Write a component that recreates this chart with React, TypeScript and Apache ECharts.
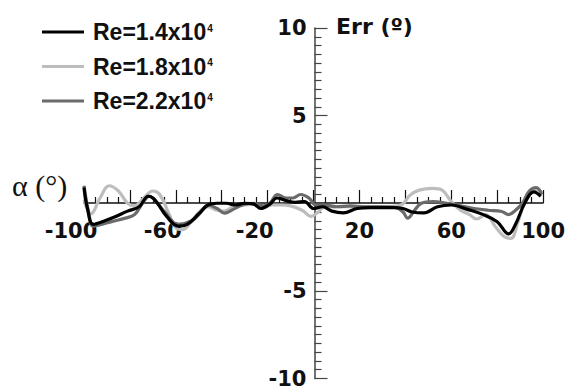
import React, { useEffect, useRef } from "react";
import * as echarts from "echarts";

const seriesNames = ["Re=1.4x10", "Re=1.8x10", "Re=2.2x10"];
const seriesColors = ["#000000", "#bdbdbd", "#6b6b6b"];
const xTickLabels = [-100, -60, -20, 20, 60, 100];
const yTickLabels = [10, 5, -5, -10];

const re14X = [-100, -98.5, -96, -92, -87, -81, -76, -72, -70, -68, -64, -59, -55, -50, -46, -42, -38, -34, -30, -26, -23, -19, -16, -12, -8, -4, 0, 4, 8, 13, 19, 25, 31, 35, 39, 43, 48, 54, 60, 67, 74, 80, 85, 88, 92, 96, 99];
const re14Y = [0.9, -0.3, -1.2, -1.05, -0.8, -0.45, -0.2, 0.4, 0.3, 0, -0.75, -1.3, -1.2, -0.6, -0.1, 0.0, 0.0, -0.1, 0.0, -0.05, -0.3, -0.05, 0.3, 0.15, 0.05, 0.1, -0.3, -0.2, -0.45, -0.55, -0.3, -0.25, -0.25, -0.25, -0.3, -0.5, -0.55, -0.2, -0.1, -0.35, -0.65, -1.05, -1.75, -1.2, 0, 0.65, 0.4];

const re18X = [-100, -97, -93, -89, -85, -81, -78, -74, -70, -67, -63, -60, -57, -53, -49, -46, -42, -39, -35, -30, -26, -22, -18, -14, -10, -5, -1, 2, 5, 10, 20, 30, 38, 42, 46, 52, 56, 60, 64, 68, 71, 75, 79, 83, 86, 89, 93, 97, 99.5];
const re18Y = [0.2, -0.6, 0.3, 1.0, 0.7, 0.0, -0.15, 0.3, 0.7, 0.5, -0.6, -1.4, -1.5, -1.0, -0.4, -0.2, -0.4, -0.45, -0.2, -0.1, -0.05, -0.2, -0.1, -0.1, -0.15, -0.4, -0.75, -0.5, -0.2, -0.2, -0.2, -0.2, -0.1, 0.45, 0.75, 0.85, 0.75, 0.1, -0.4, -0.65, -0.9, -0.65, -1.3, -1.9, -2.0, -1.1, 0.4, 0.8, 0.6];

const re22X = [-100, -98, -96, -92, -88, -82, -78, -74, -71.5, -68, -65, -59, -53, -49, -46, -42, -38.8, -35, -30, -26, -22, -19, -15.7, -12, -9, -5.6, -2, 1, 5, 10, 16, 22, 30, 36, 39, 41, 44, 47, 52, 58, 64, 70, 76, 82, 85, 88, 91, 94, 97, 99.5];
const re22Y = [1.0, -0.5, -1.3, -1.2, -1.05, -0.85, -0.65, 0.1, 0.4, 0.0, -0.47, -1.2, -1.0, -0.5, -0.1, -0.3, -0.56, -0.35, -0.05, 0.0, -0.15, 0.0, 0.5, 0.3, 0.3, 0.5, 0.3, -0.1, -0.1, -0.2, -0.15, -0.2, -0.2, -0.25, -0.5, -0.85, -0.4, 0.0, 0.1, 0.0, -0.15, -0.3, -0.4, -0.47, -0.65, -0.4, 0.0, 0.7, 0.9, 0.5];

const seriesX = [re14X, re18X, re22X];
const seriesY = [re14Y, re18Y, re22Y];

const SANS = "Liberation Sans, Arial, sans-serif";
const WIDE = "DejaVu Sans, Verdana, sans-serif";

const GRID = { left: 84, right: 23, top: 28, bottom: 10 };
const W = 568;
const H = 389;

export default function App() {
  const ref = useRef<HTMLDivElement>(null);
  useEffect(() => {
    if (!ref.current) return;
    const chart = echarts.init(ref.current, null, { renderer: "svg" });
    const gridW = W - GRID.left - GRID.right;
    const gridH = H - GRID.top - GRID.bottom;
    const series = seriesNames.map((name, i) => ({
      name,
      type: "line",
      smooth: 0.4,
      symbol: "none",
      data: seriesX[i].map((x, j) => [x, seriesY[i][j]]),
      lineStyle: { color: seriesColors[i], width: 3.2 },
      itemStyle: { color: seriesColors[i] },
      z: 3 + (i === 0 ? 2 : i === 2 ? 1 : 0),
    }));
    chart.setOption({
      animation: false,
      backgroundColor: "#ffffff",
      grid: GRID,
      legend: {
        left: 37,
        top: 15,
        orient: "vertical",
        icon: "rect",
        itemWidth: 42,
        itemHeight: 3,
        itemGap: 11,
        data: seriesNames,
        formatter: (n: string) => `{a|${n}}{s|4}`,
        textStyle: {
          padding: [0, 0, 0, 4],
          rich: {
            a: { fontSize: 23, fontWeight: "bold", fontFamily: SANS, color: "#111", lineHeight: 24 },
            s: { fontSize: 10, fontWeight: "bold", fontFamily: SANS, color: "#111", lineHeight: 10, verticalAlign: "top", padding: [3, 0, 0, 1] },
          },
        },
      },
      xAxis: {
        type: "value",
        position: "bottom",
        offset: -gridH / 2,
        min: -100,
        max: 100,
        interval: 20,
        axisLine: { onZero: false, lineStyle: { color: "#111", width: 1.5 } },
        axisTick: { inside: true, length: 13, lineStyle: { color: "#111", width: 1.2 } },
        minorTick: { show: true, splitNumber: 4, length: 6, lineStyle: { color: "#111", width: 1.2 } },
        splitLine: { show: false },
        axisLabel: {
          margin: 17,
          fontSize: 21,
          fontWeight: "bold",
          fontFamily: WIDE,
          color: "#111",
          formatter: (v: number) => (xTickLabels.includes(v) ? (v < 0 ? `{n|${v}}` : `{p|${v}}`) : ""),
          rich: {
            n: { fontSize: 21, fontWeight: "bold", fontFamily: WIDE, color: "#111", padding: [0, 26, 0, 0] },
            p: { fontSize: 21, fontWeight: "bold", fontFamily: WIDE, color: "#111" },
          },
        },
      },
      yAxis: {
        type: "value",
        position: "left",
        offset: -gridW / 2,
        min: -10,
        max: 10,
        interval: 5,
        axisLine: { onZero: false, lineStyle: { color: "#444", width: 1.5 } },
        axisTick: { inside: true, length: 13, lineStyle: { color: "#444", width: 1.2 } },
        minorTick: { show: true, splitNumber: 10, length: 7, lineStyle: { color: "#444", width: 1.2 } },
        splitLine: { show: false },
        axisLabel: {
          margin: 8,
          fontSize: 21,
          fontWeight: "bold",
          fontFamily: WIDE,
          color: "#111",
          formatter: (v: number) => (yTickLabels.includes(v) ? String(v) : ""),
        },
      },
      graphic: [
        {
          type: "text",
          left: 336,
          top: 15,
          style: { text: "Err (º)", fontSize: 22, fontWeight: "bold", fontFamily: WIDE, fill: "#111" },
        },
        {
          type: "text",
          left: 12,
          top: 170,
          style: { text: "α (°)", fontSize: 30, fontFamily: "Liberation Serif, Times New Roman, serif", fill: "#111" },
        },
      ],
      series,
    });
    return () => chart.dispose();
  }, []);
  return <div ref={ref} style={{ position: "fixed", left: 0, top: 0, width: W, height: H }} />;
}
